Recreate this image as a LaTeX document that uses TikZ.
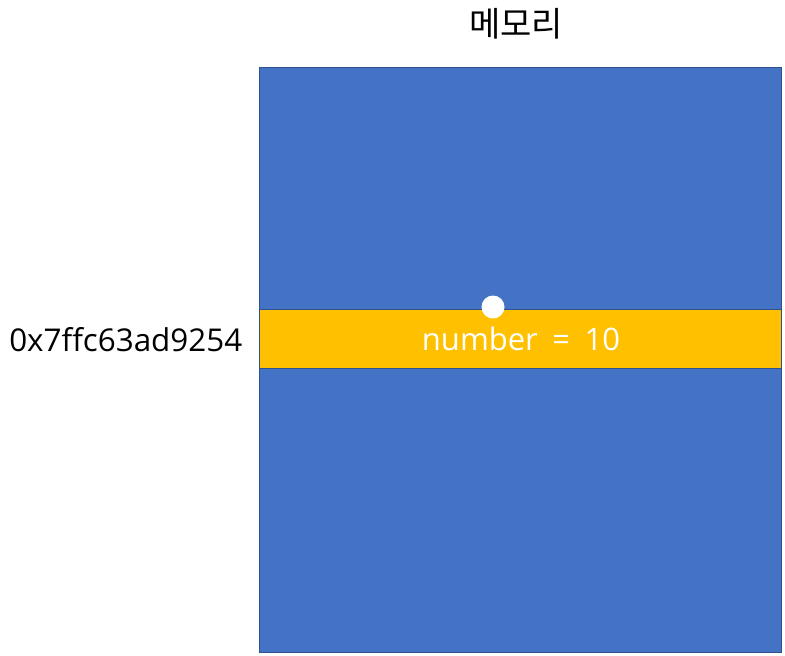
\documentclass[tikz,border=0pt]{standalone}
\usepackage{fontspec}
\setmainfont{Open Sans}[Ligatures=NoCommon]
\newfontfamily\krfont{Noto Sans CJK KR}
\newfontfamily\cellfont{Open Sans}[Ligatures=NoCommon,WordSpace=1.8]
\usepackage{tikz}
\definecolor{memblue}{HTML}{4472C4}
\definecolor{memedge}{HTML}{2F528F}
\definecolor{cellyellow}{HTML}{FFC000}

\begin{document}
\begin{tikzpicture}[x=1pt,y=-1pt,thick,
  mem node/.style={draw=memedge,fill=memblue,line width=0.8pt},
  cell node/.style={draw=memedge,fill=cellyellow,line width=0.8pt},
  label node/.style={font=\fontsize{31.4}{37}\selectfont}]
  \useasboundingbox (0,0) rectangle (785,656);

  \node[font=\krfont\fontsize{34}{40}\selectfont] (title) at (516,24) {메모리};
  \path[mem node] (259.5,67.5) rectangle (781.5,652.5);
  \path[cell node] (259.5,309.5) rectangle (781.5,368);
  \node[font=\cellfont\fontsize{31}{37}\selectfont,text=white] (cell) at (521,339) {number = 10};
  \node[label node,anchor=east] (addr) at (246,340) {0x7ffc63ad9254};
  \fill[white] (493,307) circle (11.5);
\end{tikzpicture}
\end{document}
